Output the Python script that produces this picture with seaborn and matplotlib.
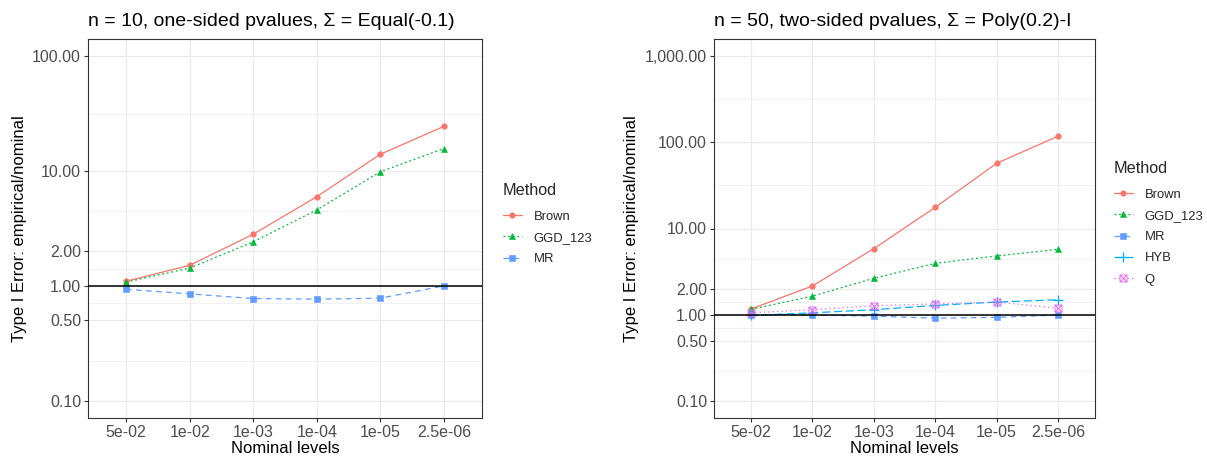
import numpy as np
import pandas as pd
import matplotlib
matplotlib.use("Agg")
import matplotlib.pyplot as plt
from matplotlib.path import Path
from matplotlib.ticker import NullFormatter
import seaborn as sns

# ---------------- data ----------------
levels = ["5e-02", "1e-02", "1e-03", "1e-04", "1e-05", "2.5e-06"]

left_methods = ["Brown", "GGD_123", "MR"]
left_brown = [1.10, 1.51, 2.82, 5.98, 14.0, 24.5]
left_ggd = [1.08, 1.43, 2.42, 4.59, 9.86, 15.7]
left_mr = [0.935, 0.853, 0.776, 0.767, 0.782, 1.0]

right_methods = ["Brown", "GGD_123", "MR", "HYB", "Q"]
right_brown = [1.16, 2.15, 5.83, 17.6, 57.2, 118.0]
right_ggd = [1.15, 1.64, 2.64, 3.94, 4.80, 5.73]
right_mr = [1.0, 0.99, 0.96, 0.91, 0.93, 0.99]
right_hyb = [0.98, 1.05, 1.14, 1.28, 1.40, 1.49]
right_q = [1.05, 1.14, 1.27, 1.33, 1.40, 1.19]

left_ticks = [0.1, 0.5, 1, 2, 10, 100]
right_ticks = [0.1, 0.5, 1, 2, 10, 100, 1000]

left_title = "n = 10, one-sided pvalues, \u03a3 = Equal(-0.1)"
right_title = "n = 50, two-sided pvalues, \u03a3 = Poly(0.2)-I"
ylabel = "Type I Error: empirical/nominal"
xlabel = "Nominal levels"


def make_df(methods, series):
    rows = []
    for m, vals in zip(methods, series):
        for lv, v in zip(levels, vals):
            rows.append({"Nominal": lv, "ratio": v, "Method": m})
    return pd.DataFrame(rows)


df_left = make_df(left_methods, [left_brown, left_ggd, left_mr])
df_right = make_df(right_methods, [right_brown, right_ggd, right_mr, right_hyb, right_q])

# ---------------- styles ----------------
sns.set_style("white")
plt.rcParams["font.family"] = ["Liberation Sans", "DejaVu Sans"]

sqx = Path(
    [(-1, -1), (1, -1), (1, 1), (-1, 1), (-1, -1), (-1, -1), (1, 1), (-1, 1), (1, -1)],
    [Path.MOVETO, Path.LINETO, Path.LINETO, Path.LINETO, Path.CLOSEPOLY,
     Path.MOVETO, Path.LINETO, Path.MOVETO, Path.LINETO],
)

style = {
    "Brown": dict(color="#F8766D", linestyle="-", marker="o", markersize=4.0,
                  markerfacecolor="#F8766D", markeredgecolor="#F8766D", markeredgewidth=0.4),
    "GGD_123": dict(color="#00BA38", linestyle=(0, (1.5, 2.2)), marker="^", markersize=4.4,
                    markerfacecolor="#00BA38", markeredgecolor="#00BA38", markeredgewidth=0.4),
    "MR": dict(color="#619CFF", linestyle=(0, (4.5, 3.5)), marker="s", markersize=3.7,
               markerfacecolor="#619CFF", markeredgecolor="#619CFF", markeredgewidth=0.4),
    "HYB": dict(color="#00B0F6", linestyle=(0, (6.5, 3)), marker="+", markersize=6.5,
                markeredgecolor="#00B0F6", markeredgewidth=0.9),
    "Q": dict(color="#E76BF3", linestyle=(0, (1, 2.5)), marker=sqx, markersize=5.0,
              markerfacecolor="none", markeredgecolor="#E76BF3", markeredgewidth=0.7),
}

W, H = 1207, 458
fig = plt.figure(figsize=(W / 100, H / 100), dpi=100)
fig.patch.set_facecolor("white")


def px_axes(x0, x1, y0, y1):
    return fig.add_axes([x0 / W, 1 - y1 / H, (x1 - x0) / W, (y1 - y0) / H])


def draw_panel(ax, df, methods, ticks, lo, hi, title, leg_xy):
    for m in methods:
        sub = df[df["Method"] == m]
        sns.lineplot(data=sub, x="Nominal", y="ratio", ax=ax, label=m,
                     linewidth=0.9, sort=False, **style[m])
    ax.axhline(1, color="black", linewidth=1.1, zorder=5)
    ax.set_yscale("log")
    ax.set_ylim(10 ** lo, 10 ** hi)
    ax.set_xlim(-0.6, len(levels) - 0.4)
    ax.set_yticks(ticks)
    ax.set_yticklabels(["{:,.2f}".format(t) for t in ticks])
    lt = np.log10(ticks)
    minors = 10 ** ((lt[:-1] + lt[1:]) / 2)
    ax.set_yticks(minors, minor=True)
    ax.yaxis.set_minor_formatter(NullFormatter())
    ax.tick_params(axis="y", which="minor", length=0)
    ax.grid(True, which="major", color="#EBEBEB", linewidth=0.9, zorder=0)
    ax.grid(True, which="minor", axis="y", color="#EBEBEB", linewidth=0.5, zorder=0)
    ax.set_axisbelow(True)
    ax.tick_params(axis="both", which="major", length=3, width=0.8, color="#333333",
                   labelcolor="#4D4D4D", labelsize=11.5, pad=2)
    ax.tick_params(axis="both", which="major", left=True, bottom=True)
    for sp in ax.spines.values():
        sp.set_color("#333333")
        sp.set_linewidth(0.8)
    ax.set_title(title, loc="left", fontsize=14, pad=9, color="black")
    ax.set_xlabel(xlabel, fontsize=12, color="black", labelpad=1)
    ax.set_ylabel(ylabel, fontsize=12, color="black", labelpad=4)
    handles, labels = ax.get_legend_handles_labels()
    if ax.get_legend() is not None:
        ax.get_legend().remove()
    leg = ax.legend(handles, labels, title="Method", loc="upper left",
                    bbox_to_anchor=(leg_xy[0] / W, 1 - leg_xy[1] / H),
                    bbox_transform=fig.transFigure, frameon=False,
                    fontsize=9.4, title_fontsize=11.7, borderpad=0, borderaxespad=0,
                    handlelength=1.45, handletextpad=0.9, labelspacing=0.7,
                    alignment="left")
    leg._legend_box.sep = 9


ax1 = px_axes(88, 482, 39, 418)
draw_panel(ax1, df_left, left_methods, left_ticks, -1.15, 2.15, left_title, (503, 183))

ax2 = px_axes(714, 1095, 39, 418)
draw_panel(ax2, df_right, right_methods, right_ticks, -1.2, 3.2, right_title, (1114, 161))

fig.savefig("out.png", dpi=100, facecolor="white")
